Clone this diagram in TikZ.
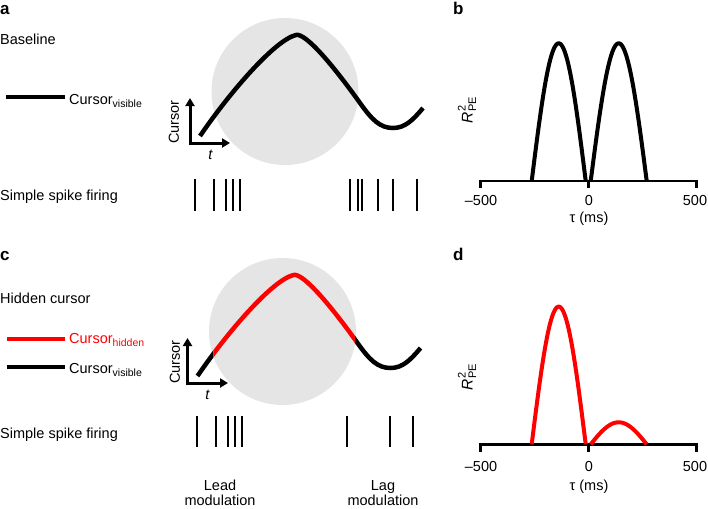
\documentclass[tikz,border=0pt]{standalone}
\usepackage{fontspec}
\setmainfont{Liberation Sans}
\usetikzlibrary{arrows.meta}
\definecolor{circgray}{RGB}{229,229,229}
\definecolor{hidred}{RGB}{255,0,0}
\newcommand{\mysub}[1]{\raisebox{-3.5pt}{\fontsize{10.5}{12}\selectfont #1}}
\newcommand{\rlabel}{{\fontsize{15.5}{18}\selectfont\itshape R}\kern0.8pt\rlap{\raisebox{7pt}{\fontsize{11}{13}\selectfont 2}}\raisebox{-3.5pt}{\fontsize{11}{13}\selectfont PE}}
\newcommand{\cursorcurve}{(200,136) .. controls (230,92) and (275,40) .. (296,35) .. controls (306,32.6) and (335,68) .. (360,103) .. controls (372,119.8) and (380,128) .. (393,128) .. controls (405,128) and (413,120) .. (423,108)}
\tikzset{
  txt/.style={font=\fontsize{14.5}{17}\selectfont, inner sep=0pt},
  lbl/.style={font=\fontsize{17}{20}\selectfont\bfseries, inner sep=0pt},
  curve/.style={line width=4.5pt},
  legline/.style={line width=4.5pt},
  spike/.style={line width=2.2pt},
  axarrow/.style={line width=3pt, line join=miter, {Triangle[width=9pt,length=8pt]}-{Triangle[width=9pt,length=8pt]}},
  axisline/.style={line width=2.8pt, line join=miter},
  hump/.style={line width=4pt},
}
\begin{document}
\begin{tikzpicture}[x=1pt,y=-1pt]
\useasboundingbox (0,0) rectangle (708,508);

% ---------- panel labels ----------
\node[lbl, anchor=base west] (la) at (0,15) {a};
\node[lbl, anchor=base west] (lb) at (453,15) {b};
\node[lbl, anchor=base west] (lc) at (0,260) {c};
\node[lbl, anchor=base west] (ld) at (453,260) {d};

% ---------- panel a left ----------
\node[txt, anchor=base west] (baseline) at (0,45) {Baseline};
\draw[legline] (6,97) -- (65,97);
\node[txt, anchor=base west] (legvis1) at (69,104) {Cursor\mysub{visible}};
\node[txt, anchor=base west] (ssf1) at (0,200) {Simple spike firing};

% ---------- panel a middle ----------
\fill[circgray] (285,91.5) circle[radius=73.5];
\draw[curve] \cursorcurve;
\coordinate (atop1) at (190,98);
\coordinate (acor1) at (190,143);
\coordinate (aright1) at (230,143);
\draw[axarrow] (atop1) -- (acor1) -- (aright1);
\node[txt, rotate=90] (cur1) at (174,122) {Cursor};
\node[txt, font=\fontsize{14.5}{17}\selectfont\itshape] (t1) at (210.5,155) {t};
\foreach \x in {195,214.3,226,232.7,240,350,358,362,377.7,393.3,417.3}
  \draw[spike] (\x,179) -- (\x,211);

% ---------- panel b ----------
\draw[axisline] (480.7,188) -- (480.7,181) -- (696.7,181) -- (696.7,188);
\draw[axisline] (588.7,181) -- (588.7,188);
\draw[hump] plot[domain=-90:90, samples=61] ({558.7+27*\x/90}, {181-137.7*cos(\x)});
\draw[hump] plot[domain=-90:90, samples=61] ({618.7+28*\x/90}, {181-137.7*cos(\x)});
\node[txt, anchor=base] (tb1) at (481,205) {–500};
\node[txt, anchor=base] (tb2) at (589,205) {0};
\node[txt, anchor=base] (tb3) at (695,205) {500};
\node[txt, anchor=base] (taub) at (589,222) {τ (ms)};
\node[txt, rotate=90] (rb) at (467,110) {\rlabel};

% ---------- panel c left ----------
\node[txt, anchor=base west] (hidden) at (0,303) {Hidden cursor};
\draw[legline, hidred] (7,339) -- (65,339);
\node[txt, anchor=base west, text=hidred] (leghid) at (69,343) {Cursor\mysub{hidden}};
\draw[legline] (7,367) -- (65,367);
\node[txt, anchor=base west] (legvis2) at (69,373) {Cursor\mysub{visible}};
\node[txt, anchor=base west] (ssf2) at (0,438) {Simple spike firing};

% ---------- panel c middle ----------
\begin{scope}[shift={(-2.5,240)}]
  \fill[circgray] (285,91.5) circle[radius=73.5];
  \begin{scope}
    \clip (150,0) rectangle (215.8,200);
    \draw[curve] \cursorcurve;
  \end{scope}
  \begin{scope}
    \clip (357.5,0) rectangle (450,200);
    \draw[curve] \cursorcurve;
  \end{scope}
  \begin{scope}
    \clip (215.8,0) rectangle (357.5,200);
    \draw[curve, hidred] \cursorcurve;
  \end{scope}
\end{scope}
\coordinate (atop2) at (187.5,338);
\coordinate (acor2) at (187.5,383);
\coordinate (aright2) at (228,383);
\draw[axarrow] (atop2) -- (acor2) -- (aright2);
\node[txt, rotate=90] (cur2) at (175,362) {Cursor};
\node[txt, font=\fontsize{14.5}{17}\selectfont\itshape] (t2) at (207.5,395) {t};
\foreach \x in {196.7,216,228.3,235,242.3,346.7,390,413.3}
  \draw[spike] (\x,415.7) -- (\x,446.7);
\node[txt, anchor=base] (lead) at (220,490.5) {Lead};
\node[txt, anchor=base] (leadm) at (220,505.5) {modulation};
\node[txt, anchor=base] (lag) at (383,490.5) {Lag};
\node[txt, anchor=base] (lagm) at (383,505.5) {modulation};

% ---------- panel d ----------
\draw[axisline] (480.7,451.7) -- (480.7,444.3) -- (696.7,444.3) -- (696.7,451.7);
\draw[axisline] (588.7,444.3) -- (588.7,451.7);
\draw[hump, hidred] plot[domain=-90:90, samples=61] ({558.7+27*\x/90}, {444.3-137.7*cos(\x)});
\draw[hump, hidred] plot[domain=-90:90, samples=61] ({618.7+28*\x/90}, {444.3-22*cos(\x)});
\node[txt, anchor=base] (td1) at (481,471) {–500};
\node[txt, anchor=base] (td2) at (589,471) {0};
\node[txt, anchor=base] (td3) at (695,471) {500};
\node[txt, anchor=base] (taud) at (589,490) {τ (ms)};
\node[txt, rotate=90] (rd) at (467,377) {\rlabel};
\end{tikzpicture}
\end{document}
